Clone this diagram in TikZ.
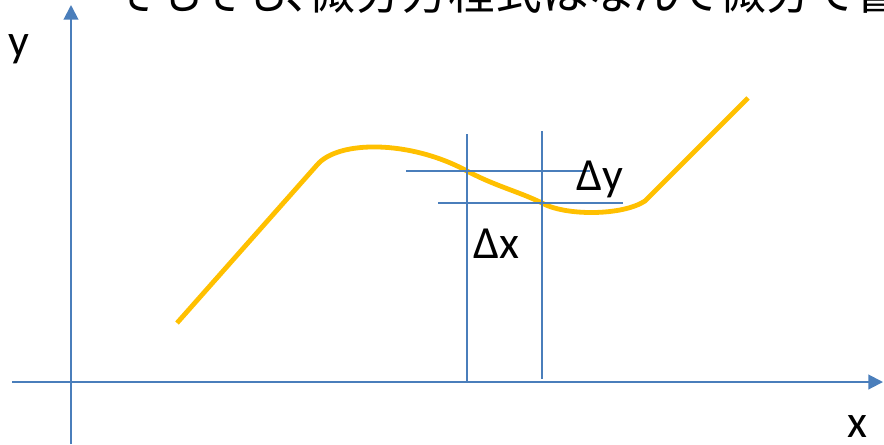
\documentclass[tikz,border=0pt]{standalone}
\usepackage{fontspec}
\setmainfont{Carlito}
\newfontfamily\jpfont[RawFeature=+palt]{Noto Sans CJK JP}
\usepackage{xcolor}
\usetikzlibrary{arrows.meta,positioning}
\definecolor{axisblue}{HTML}{4A7EBB}
\definecolor{curvegold}{HTML}{FFC000}

\begin{document}
\begin{tikzpicture}[
    x=0.75pt,
    y=-0.75pt,
    axis/.style={
        draw=axisblue,
        line width=1.5pt,
        -{Triangle[length=11pt,width=11pt]}
    },
    guide/.style={
        draw=axisblue,
        line width=1.1pt
    },
    curve/.style={
        draw=curvegold,
        line width=3.6pt
    },
    label/.style={
        inner sep=0pt,
        anchor=base west,
        font=\fontsize{34.5}{40}\selectfont
    }
]
\clip (0,0) rectangle (884,444);

% Title (cut by the frame)
\node[label, font=\jpfont\fontsize{35}{40}\selectfont] (title) at (115,9)
    {そもそも、微分方程式はなんで微分で書};

% Axes
\coordinate (ybot) at (71,444);
\coordinate (ytop) at (71,5);
\coordinate (xleft) at (12,382);
\coordinate (xright) at (883,382);
\draw[axis] (ybot) -- (ytop);
\draw[axis] (xleft) -- (xright);
\node[label] (ylabel) at (8,56) {y};
\node[label] (xlabel) at (847,437) {x};

% Curve
\coordinate (c0) at (177,323);
\coordinate (c1) at (317,165);
\coordinate (p) at (467,171);
\coordinate (q) at (542,203);
\coordinate (c2) at (645,201);
\coordinate (c3) at (748,98);
\draw[curve, line join=round] (c0) -- (c1)
    .. controls (338,140) and (410,140) .. (p)
    .. controls (495,186) and (520,192) .. (q)
    .. controls (565,216) and (622,216) .. (c2) -- (c3);

% Delta lines
\coordinate (v1top) at (467,134);
\coordinate (v1bot) at (467,381);
\coordinate (v2top) at (542,131);
\coordinate (v2bot) at (542,379);
\coordinate (h1left) at (406,171);
\coordinate (h1right) at (590,171);
\coordinate (h2left) at (438,203);
\coordinate (h2right) at (623,203);
\draw[guide] (v1top) -- (v1bot);
\draw[guide] (v2top) -- (v2bot);
\draw[guide] (h1left) -- (h1right);
\draw[guide] (h2left) -- (h2right);
\node[label] (dy) at (576,190) {Δy};
\node[label] (dx) at (473,258) {Δx};

\end{tikzpicture}
\end{document}
